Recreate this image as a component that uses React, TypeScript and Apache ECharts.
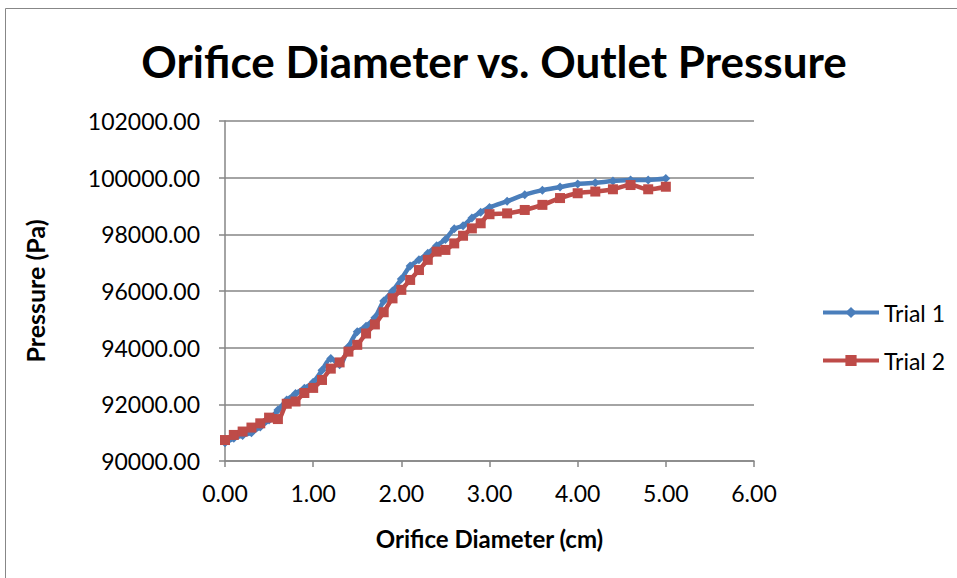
import React, { useEffect, useRef } from "react";
import * as echarts from "echarts";

const xValues1 = [0, 0.1, 0.2, 0.3, 0.4, 0.5, 0.6, 0.7, 0.8, 0.9, 1.0, 1.1, 1.2, 1.3, 1.4, 1.5, 1.6, 1.7, 1.8, 1.9, 2.0, 2.1, 2.2, 2.3, 2.4, 2.5, 2.6, 2.7, 2.8, 2.9, 3.0, 3.2, 3.4, 3.6, 3.8, 4.0, 4.2, 4.4, 4.6, 4.8, 5.0];
const trial1 = [90640, 90800, 90900, 91000, 91200, 91450, 91800, 92150, 92380, 92570, 92780, 93200, 93620, 93400, 94030, 94560, 94760, 95060, 95650, 96000, 96420, 96880, 97100, 97330, 97600, 97820, 98200, 98300, 98580, 98780, 98950, 99170, 99400, 99560, 99670, 99780, 99820, 99880, 99920, 99920, 99970];
const trial2 = [90740, 90920, 91040, 91180, 91330, 91530, 91480, 92020, 92100, 92400, 92580, 92860, 93260, 93480, 93860, 94100, 94500, 94820, 95250, 95740, 96040, 96390, 96740, 97100, 97390, 97450, 97680, 97950, 98210, 98390, 98710, 98740, 98860, 99040, 99280, 99450, 99510, 99590, 99740, 99590, 99680];
const seriesNames = ["Trial 1", "Trial 2"];
const titleText = "Orifice Diameter vs. Outlet Pressure";
const xAxisTitle = "Orifice Diameter (cm)";
const yAxisTitle = "Pressure (Pa)";

const FONT = "Lato, 'Open Sans', sans-serif";

export default function App() {
  const ref = useRef<HTMLDivElement>(null);
  useEffect(() => {
    if (!ref.current) return;
    const chart = echarts.init(ref.current, null, { renderer: "svg" });
    const gridColor = "#868686";
    chart.setOption({
      animation: false,
      backgroundColor: "#ffffff",
      title: {
        text: titleText,
        left: 489,
        textAlign: "center",
        top: 34,
        textStyle: { fontFamily: FONT, fontSize: 44, fontWeight: "bold", color: "#000" },
      },
      graphic: [
        {
          type: "rect",
          shape: { x: 5.5, y: 8.5, width: 1000, height: 700 },
          style: { fill: "none", stroke: "#878787", lineWidth: 1 },
          silent: true,
        },
      ],
      legend: {
        orient: "vertical",
        left: 816,
        top: 296,
        itemWidth: 56,
        itemHeight: 14,
        itemGap: 25,
        data: seriesNames,
        lineStyle: { width: 4 },
        textStyle: { fontFamily: FONT, fontSize: 23, color: "#000" },
      },
      grid: { left: 225, right: 203, top: 121, bottom: 117 },
      xAxis: {
        type: "value",
        min: 0,
        max: 6,
        interval: 1,
        name: xAxisTitle,
        nameLocation: "middle",
        nameGap: 65,
        nameTextStyle: { fontFamily: FONT, fontSize: 24, fontWeight: "bold", color: "#000" },
        axisLine: { show: true, onZero: false, lineStyle: { color: gridColor, width: 1.5 } },
        axisTick: { show: true, length: 6, lineStyle: { color: gridColor, width: 1.5 } },
        axisLabel: {
          margin: 20,
          fontFamily: FONT,
          fontSize: 23,
          color: "#000",
          formatter: (v: number) => v.toFixed(2),
        },
        splitLine: { show: false },
      },
      yAxis: {
        type: "value",
        min: 90000,
        max: 102000,
        interval: 2000,
        name: yAxisTitle,
        nameLocation: "middle",
        nameGap: 178,
        nameRotate: 90,
        nameTextStyle: { fontFamily: FONT, fontSize: 25, fontWeight: "bold", color: "#000" },
        axisLine: { show: true, lineStyle: { color: gridColor, width: 1.5 } },
        axisTick: { show: true, length: 6, lineStyle: { color: gridColor, width: 1.5 } },
        axisLabel: {
          margin: 25,
          fontFamily: FONT,
          fontSize: 23,
          color: "#000",
          formatter: (v: number) => v.toFixed(2),
        },
        splitLine: { show: true, lineStyle: { color: gridColor, width: 1.5 } },
      },
      series: [
        {
          name: seriesNames[0],
          type: "line",
          smooth: 0.3,
          data: xValues1.map((x, i) => [x, trial1[i]]),
          symbol: "diamond",
          symbolSize: 9,
          lineStyle: { color: "#4A7EBB", width: 4.5 },
          itemStyle: { color: "#4A7EBB" },
          z: 2,
        },
        {
          name: seriesNames[1],
          type: "line",
          smooth: 0.3,
          data: xValues1.map((x, i) => [x, trial2[i]]),
          symbol: "rect",
          symbolSize: 10,
          lineStyle: { color: "#BE4B48", width: 4.5 },
          itemStyle: { color: "#BE4B48" },
          z: 3,
        },
      ],
    });
    return () => chart.dispose();
  }, []);
  return <div ref={ref} style={{ width: 957, height: 578, position: "absolute", left: 0, top: 0 }} />;
}
